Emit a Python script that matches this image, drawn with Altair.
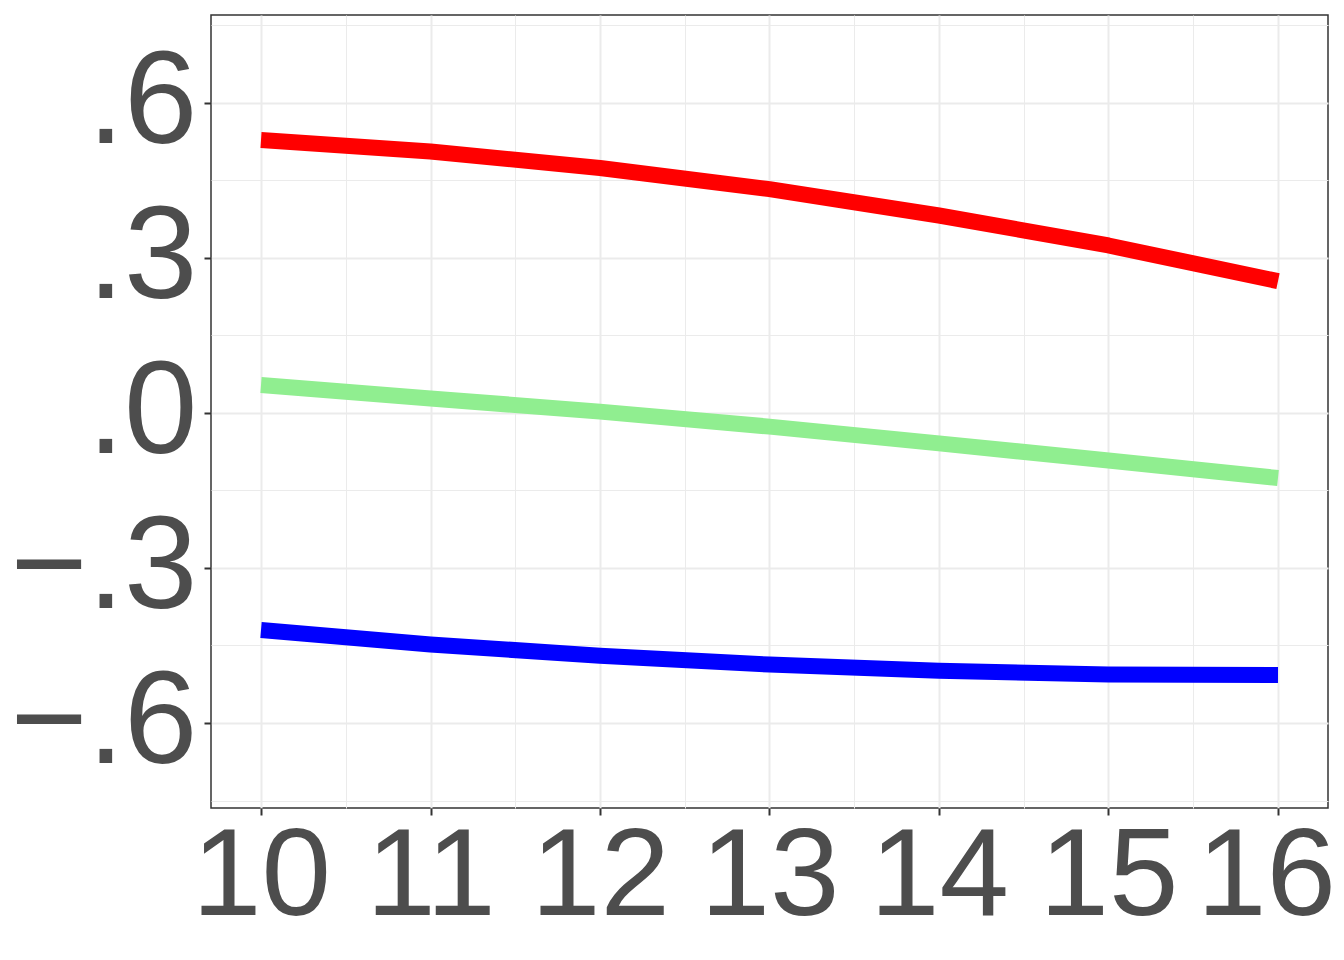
import altair as alt
import pandas as pd

x_vals = [10, 11, 12, 13, 14, 15, 16]
red_vals = [0.528, 0.506, 0.474, 0.433, 0.382, 0.324, 0.255]
green_vals = [0.054, 0.028, 0.0025, -0.0265, -0.059, -0.092, -0.126]
blue_vals = [-0.420, -0.448, -0.470, -0.487, -0.499, -0.506, -0.507]

series_names = ["red", "green", "blue"]
series_colors = ["#FF0000", "#90EE90", "#0000FF"]

x_ticks = [10, 10.5, 11, 11.5, 12, 12.5, 13, 13.5, 14, 14.5, 15, 15.5, 16]
y_ticks = [-0.75, -0.6, -0.45, -0.3, -0.15, 0.0, 0.15, 0.3, 0.45, 0.6, 0.75]

rows = []
for name, vals in zip(series_names, [red_vals, green_vals, blue_vals]):
    for xv, yv in zip(x_vals, vals):
        rows.append({"x": xv, "y": yv, "series": name})
df = pd.DataFrame(rows)

FONT = "Liberation Sans"

x_minor = "datum.value % 1 != 0"
y_minor = "abs(round(datum.value*100)) % 30 != 0"

chart = (
    alt.Chart(df)
    .mark_line(strokeWidth=16, strokeCap="butt", strokeJoin="round")
    .encode(
        x=alt.X(
            "x:Q",
            scale=alt.Scale(domain=[9.705, 16.295], nice=False, zero=False),
            axis=alt.Axis(
                values=x_ticks,
                title=None,
                domain=False,
                labelExpr="datum.value % 1 == 0 ? datum.value : ''",
                labelFont=FONT,
                labelFontSize=125,
                labelColor="#4D4D4D",
                labelPadding=0,
                labelFlush=False,
                labelOverlap=False,
                labelLimit=0,
                labelOffset=alt.condition("datum.value == 16", alt.value(-12), alt.value(0)),
                tickSize=7,
                tickWidth=2,
                tickColor="#333333",
                tickOpacity=alt.condition(x_minor, alt.value(0), alt.value(1)),
                gridColor="#EBEBEB",
                gridWidth=alt.condition(x_minor, alt.value(1), alt.value(2)),
            ),
        ),
        y=alt.Y(
            "y:Q",
            scale=alt.Scale(domain=[-0.7645, 0.770], nice=False, zero=False),
            axis=alt.Axis(
                values=y_ticks,
                title=None,
                domain=False,
                labelExpr="abs(round(datum.value*100)) % 30 == 0 ? (datum.value < -0.001 ? '\u2212' : '') + '.' + abs(round(datum.value*10)) : ''",
                labelFont=FONT,
                labelFontSize=132,
                labelColor="#4D4D4D",
                labelPadding=7,
                labelFlush=False,
                labelOverlap=False,
                labelLimit=0,
                tickSize=7,
                tickWidth=2,
                tickColor="#333333",
                tickOpacity=alt.condition(y_minor, alt.value(0), alt.value(1)),
                gridColor="#EBEBEB",
                gridWidth=alt.condition(y_minor, alt.value(1), alt.value(2)),
            ),
        ),
        color=alt.Color(
            "series:N",
            scale=alt.Scale(domain=series_names, range=series_colors),
            legend=None,
        ),
        detail="series:N",
    )
    .properties(
        width=1117,
        height=793,
        background="white",
        autosize=alt.AutoSizeParams(type="none"),
        padding={"left": 203, "top": 7, "right": 8, "bottom": 144},
    )
    .configure_view(stroke="#333333", strokeWidth=1.5)
)

chart.save("out.html", embed_options={"renderer": "svg", "actions": False})
